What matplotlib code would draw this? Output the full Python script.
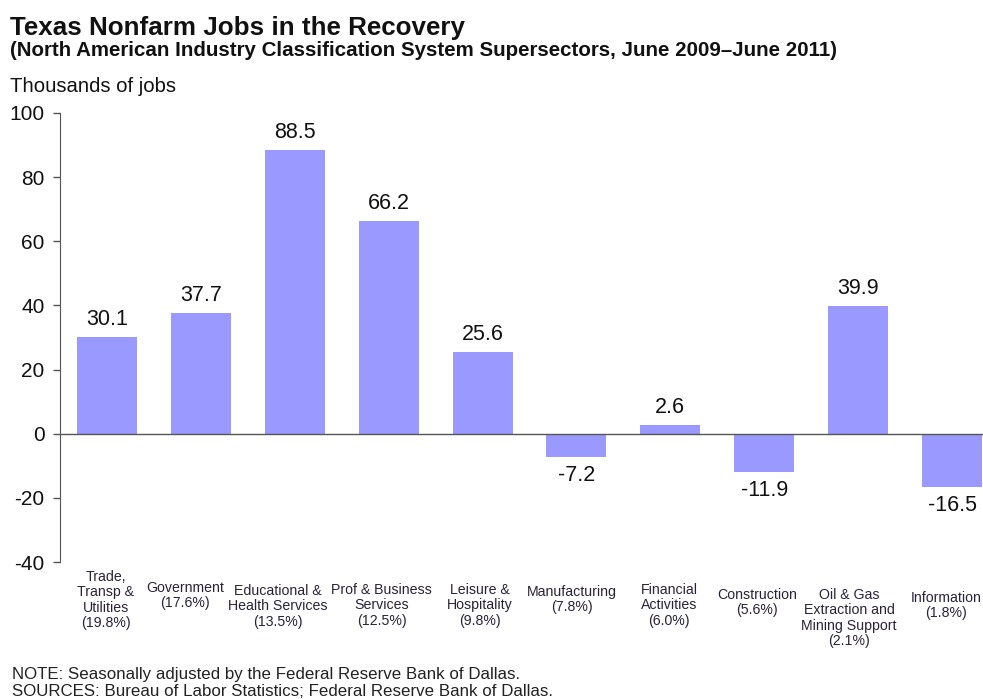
import matplotlib
matplotlib.use("Agg")
import matplotlib.pyplot as plt
from matplotlib.transforms import offset_copy

plt.rcParams['font.family'] = ['Liberation Sans', 'DejaVu Sans']

categories = ["Trade,\nTransp &\nUtilities\n(19.8%)", "Government\n(17.6%)",
              "Educational &\nHealth Services\n(13.5%)", "Prof & Business\nServices\n(12.5%)",
              "Leisure &\nHospitality\n(9.8%)", "Manufacturing\n(7.8%)",
              "Financial\nActivities\n(6.0%)", "Construction\n(5.6%)",
              "Oil & Gas\nExtraction and\nMining Support\n(2.1%)", "Information\n(1.8%)"]
values = [30.1, 37.7, 88.5, 66.2, 25.6, -7.2, 2.6, -11.9, 39.9, -16.5]
yticks = [100, 80, 60, 40, 20, 0, -20, -40]

W, H = 983, 699
fig = plt.figure(figsize=(W/100, H/100), dpi=100)
ax = fig.add_axes([60/W, 1-562/H, 939/W, 449/H])

x = list(range(len(values)))
ax.bar(x, values, width=0.64, color='#9999ff', zorder=2)
ax.axhline(0, color='#555555', lw=1.0, zorder=3)
ax.set_xlim(-0.5, len(values)-0.5)
ax.set_ylim(-40, 100)
ax.set_yticks(yticks)
ax.set_yticklabels([str(t) for t in yticks], fontsize=15, color='#111111')
ax.tick_params(axis='y', direction='out', length=5, color='#555555', width=1, pad=6)
ax.tick_params(axis='x', bottom=False, labelbottom=False)
for s in ['top', 'right', 'bottom']:
    ax.spines[s].set_visible(False)
ax.spines['left'].set_color('#555555')

for xi, v in zip(x, values):
    if v >= 0:
        ax.annotate(f"{v}", (xi, v), xytext=(0, 5), textcoords='offset points',
                    ha='center', va='bottom', fontsize=15.5, color='#111111')
    else:
        ax.annotate(f"{v}", (xi, v), xytext=(0, -6), textcoords='offset points',
                    ha='center', va='top', fontsize=15.5, color='#111111')

# category labels: pixel top of first line and horizontal pixel shift
label_tops = [570, 581, 584, 583, 583, 585, 583, 588, 588, 591]
label_dx = [-1, -16, -17, -7, -3, -5, -1, -7, -9, -6]
trans = ax.get_xaxis_transform()
for xi, lab, top, dx in zip(x, categories, label_tops, label_dx):
    disp = fig.transFigure.transform((0, 1 - top/H))[1]
    ya = ax.transAxes.inverted().transform((0, disp))[1]
    tr = offset_copy(trans, fig=fig, x=dx, y=0, units='dots')
    ax.text(xi, ya, lab, transform=tr, ha='center', va='top',
            fontsize=10.2, color='#2a2238', linespacing=1.12)

fig.text(10/W, 1-35/H, "Texas Nonfarm Jobs in the Recovery", fontsize=18.7, fontweight='bold',
         va='baseline', ha='left', color='#111111')
fig.text(10/W, 1-56/H, "(North American Industry Classification System Supersectors, June 2009\u2013June 2011)",
         fontsize=14.8, fontweight='bold', va='baseline', ha='left', color='#111111')
fig.text(10/W, 1-92/H, "Thousands of jobs", fontsize=14.6, va='baseline', ha='left', color='#111111')
fig.text(12/W, 1-679/H, "NOTE: Seasonally adjusted by the Federal Reserve Bank of Dallas.",
         fontsize=12.2, va='baseline', ha='left', color='#222222')
fig.text(12/W, 1-696/H, "SOURCES: Bureau of Labor Statistics; Federal Reserve Bank of Dallas.",
         fontsize=12.2, va='baseline', ha='left', color='#222222')

fig.savefig("out.png", dpi=100)
